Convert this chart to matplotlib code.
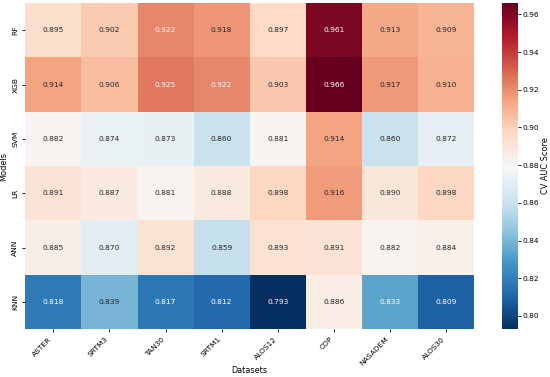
import matplotlib
matplotlib.use("Agg")
import matplotlib.pyplot as plt
import numpy as np
import seaborn as sns

# Modeli i skupovi podataka sa slike.
MODELS = ["RF", "XGB", "SVM", "LR", "ANN", "KNN"]
DATASETS = ["ASTER", "SRTM3", "TAN30", "SRTM1", "ALOS12", "COP", "NASADEM", "ALOS30"]

RF_SCORES = [0.895, 0.902, 0.922, 0.918, 0.897, 0.961, 0.913, 0.909]
XGB_SCORES = [0.914, 0.906, 0.925, 0.922, 0.903, 0.966, 0.917, 0.910]
SVM_SCORES = [0.882, 0.874, 0.873, 0.860, 0.881, 0.914, 0.860, 0.872]
LR_SCORES = [0.891, 0.887, 0.881, 0.888, 0.898, 0.916, 0.890, 0.898]
ANN_SCORES = [0.885, 0.870, 0.892, 0.859, 0.893, 0.891, 0.882, 0.884]
KNN_SCORES = [0.818, 0.839, 0.817, 0.812, 0.793, 0.886, 0.833, 0.809]

FONT_SIZE = 5.4
LABEL_SIZE = 5.9


def main():
    scores = np.array(
        [RF_SCORES, XGB_SCORES, SVM_SCORES, LR_SCORES, ANN_SCORES, KNN_SCORES]
    )

    plt.rcParams["font.size"] = FONT_SIZE
    plt.rcParams["text.color"] = "#262626"
    fig = plt.figure(figsize=(5.5, 3.77), dpi=100)
    ax = fig.add_axes([0.046, 0.127, 0.816, 0.865])
    cax = fig.add_axes([0.913, 0.127, 0.029, 0.865])

    sns.heatmap(
        scores,
        ax=ax,
        cbar_ax=cax,
        cmap="RdBu_r",
        annot=True,
        fmt=".3f",
        annot_kws={"size": FONT_SIZE},
        xticklabels=DATASETS,
        yticklabels=MODELS,
    )

    ax.tick_params(labelsize=FONT_SIZE, length=2.5, width=0.6, pad=2.5)
    plt.setp(ax.get_xticklabels(), rotation=45, ha="right")
    plt.setp(ax.get_yticklabels(), rotation=90, va="center")

    ax.set_xlabel("Datasets", fontsize=LABEL_SIZE)
    ax.set_ylabel("Models", fontsize=LABEL_SIZE)
    ax.xaxis.set_label_coords(0.5, -0.112)
    ax.yaxis.set_label_coords(-0.038, 0.5)

    cax.tick_params(labelsize=FONT_SIZE, length=2, width=0.6, pad=1.5)
    cax.set_ylabel("CV AUC Score", fontsize=LABEL_SIZE, labelpad=1)

    fig.savefig("out.png", dpi=100)
    plt.close(fig)


if __name__ == "__main__":
    main()
